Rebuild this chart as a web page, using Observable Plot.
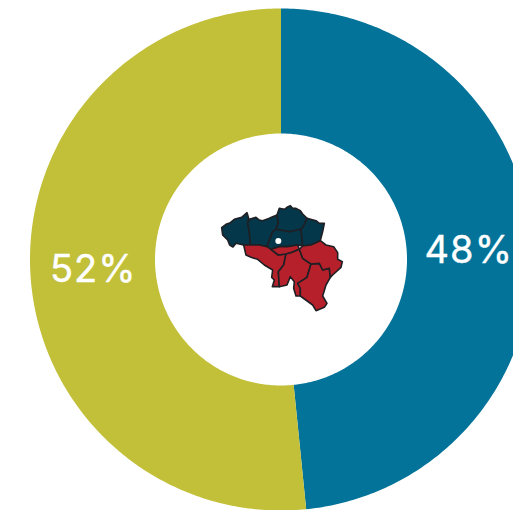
<!DOCTYPE html>
<html><head><meta charset="utf-8">
<script src="https://cdn.jsdelivr.net/npm/d3@7"></script>
<script src="https://cdn.jsdelivr.net/npm/@observablehq/plot@0.6"></script>
<style>html,body{margin:0;background:#fff}svg{display:block;overflow:hidden}svg text{letter-spacing:1px}</style>
</head><body><div id="c"></div>
<script>
// Donut data (clockwise from the top)
const names = ["Flandre", "Wallonie"];
const shares = [48.4, 51.6];
const labels = ["48%", "52%"];
const colors = ["#047399", "#c2bf38"];

// Province outlines (map units)
const westFlanders = [[62,113],[75,103],[88,98],[100,88],[122,82],[138,68],[143,85],[140,100],[145,125],[148,165],[128,165],[105,160],[96,171],[86,165],[80,150],[65,135]];
const eastFlanders = [[145,88],[165,82],[175,90],[185,92],[205,85],[215,80],[228,75],[232,100],[225,118],[215,125],[205,150],[198,170],[175,165],[148,165],[145,125],[140,100]];
const antwerp = [[228,75],[235,55],[250,58],[258,52],[268,47],[275,55],[285,55],[298,62],[305,72],[318,85],[308,108],[300,118],[265,125],[225,118],[232,100]];
const flemishBrabant = [[215,125],[225,118],[265,125],[300,118],[305,168],[290,165],[260,170],[235,170],[210,178],[198,170],[205,150]];
const limburg = [[318,85],[345,92],[355,100],[370,100],[365,125],[358,152],[330,165],[305,168],[300,118],[308,108]];
const hainaut = [[128,165],[148,165],[175,165],[198,170],[210,178],[232,195],[255,192],[248,225],[232,245],[235,290],[214,290],[220,270],[212,262],[215,240],[190,225],[170,208],[150,202],[135,195]];
const walloonBrabant = [[210,178],[235,170],[260,170],[290,165],[295,178],[270,188],[255,192],[232,195]];
const namur = [[255,192],[270,188],[295,178],[305,205],[330,222],[318,262],[290,280],[298,295],[298,318],[285,318],[278,295],[280,275],[268,260],[258,285],[235,290],[232,245],[248,225]];
const luxembourg = [[330,222],[355,220],[365,240],[385,235],[388,262],[375,285],[365,318],[378,340],[370,352],[345,362],[335,345],[298,318],[298,295],[290,280],[318,262]];
const liege = [[295,178],[305,168],[330,165],[358,152],[375,165],[398,170],[410,188],[410,208],[424,215],[420,232],[395,255],[388,262],[385,235],[365,240],[355,220],[330,222],[305,205]];
const brussels = [[232,153]];

const flemish = {westFlanders, eastFlanders, antwerp, flemishBrabant, limburg};
const walloon = {hainaut, walloonBrabant, namur, luxembourg, liege};

// Layout
const cx = 280.5, cy = 259, rOuter = 251, rInner = 126, rLabel = 188;
const total = d3.sum(shares);
let acc = 0;
const slices = names.map((name, i) => {
  const a0 = acc / total * 2 * Math.PI; acc += shares[i];
  const a1 = acc / total * 2 * Math.PI;
  return {name, label: labels[i], a0, a1, mid: (a0 + a1) / 2};
});
const polar = (a, r) => [cx + r * Math.sin(a), cy - r * Math.cos(a)];
const ring = slices.flatMap(s => {
  const n = 240, as = d3.range(n + 1).map(k => s.a0 + (s.a1 - s.a0) * k / n);
  const pts = [...as.map(a => polar(a, rOuter)), ...as.reverse().map(a => polar(a, rInner))];
  return pts.map(([x, y]) => ({x, y, name: s.name}));
});
const labelPts = slices.map(s => { const [x, y] = polar(s.mid, rLabel); return {x, y, label: s.label}; });

const toMap = (group, fill) => Object.entries(group).flatMap(([id, pts]) =>
  pts.concat([pts[0]]).map(([u, v]) => ({x: 200.5 + u / 3, y: 189.5 + v / 3, id, fill})));
const mapPts = [...toMap(flemish, "#05374a"), ...toMap(walloon, "#b5202b")];

const chart = Plot.plot({
  width: 513, height: 510, margin: 0,
  x: {domain: [0, 513], range: [0, 513], axis: null},
  y: {domain: [0, 510], range: [0, 510], axis: null},
  color: {domain: names, range: colors},
  marks: [
    Plot.line(ring, {x: "x", y: "y", z: "name", fill: "name", stroke: null}),
    Plot.line(mapPts, {x: "x", y: "y", z: "id", fill: d => d.fill, stroke: "#1f1f24", strokeWidth: 1.6, strokeLinejoin: "round"}),
    Plot.dot(brussels, {x: d => 200.5 + d[0] / 3, y: d => 189.5 + d[1] / 3, r: 3, fill: "#fff", stroke: null}),
    Plot.text(labelPts, {x: "x", y: "y", text: "label", fill: "#fff", stroke: "#fff", strokeWidth: 0.4, fontSize: 38, fontFamily: "Inter, sans-serif", fontWeight: 400, textAnchor: "middle", dy: 1})
  ]
});
document.getElementById("c").append(chart);
</script></body></html>
